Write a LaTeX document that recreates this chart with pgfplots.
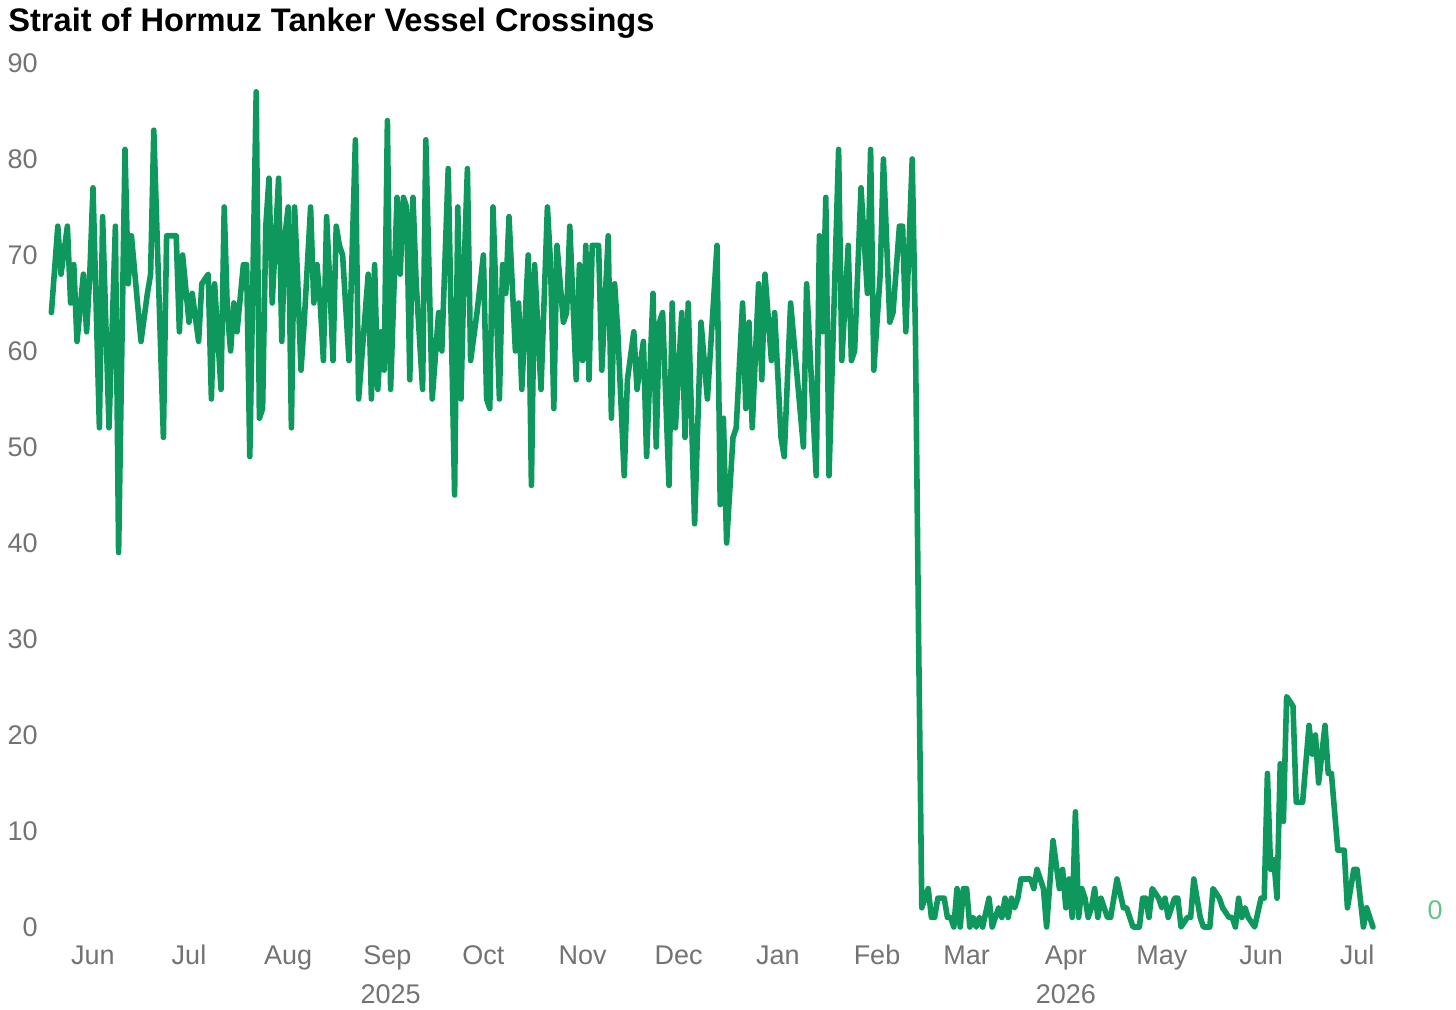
\documentclass[border=0pt]{standalone}
\usepackage{pgfplots}
\usepackage{pgfplotstable}
\pgfplotsset{compat=1.18}
\usepackage{fontspec}
\setmainfont{Liberation Sans}
\definecolor{linegreen}{RGB}{14,152,94}
\definecolor{lblgreen}{RGB}{100,195,140}
\definecolor{tickgray}{RGB}{115,115,115}
\pgfplotstableread{
d v
-13 64
-11 73
-10 68
-8 73
-7 65
-6 69
-5 61
-3 68
-2 62
-1 68
0 77
2 52
3 74
5 52
7 73
8 39
10 81
11 67
12 72
15 61
17 66
18 68
19 83
22 51
23 72
26 72
27 62
28 70
30 63
31 66
33 61
34 67
36 68
37 55
38 67
40 56
41 75
42 64
43 60
44 65
45 62
47 69
48 69
49 49
51 87
52 53
53 54
54 73
55 78
56 65
58 78
59 61
60 72
61 75
62 52
63 75
64 67
65 58
66 63
68 75
69 65
70 69
71 65
72 59
73 74
74 67
75 59
76 73
77 71
78 70
80 59
82 82
83 55
86 68
87 55
88 69
89 56
90 62
91 58
92 84
93 56
95 76
96 68
97 76
98 75
99 57
100 76
101 67
103 56
104 82
106 55
108 64
109 60
111 79
113 45
114 75
115 55
116 69
117 79
118 59
120 64
122 70
123 55
124 54
125 75
127 55
128 69
129 66
130 74
132 60
133 65
134 56
136 70
137 46
138 69
140 56
142 75
143 69
144 54
145 71
147 63
148 64
149 73
151 57
152 69
153 59
154 71
155 57
156 71
158 71
159 58
161 72
162 53
163 67
164 62
166 47
167 57
169 62
170 56
172 61
173 49
175 66
176 50
177 63
178 64
180 46
181 65
182 52
184 64
185 51
186 65
188 42
190 63
192 55
195 71
196 44
197 53
198 40
200 51
201 52
203 65
204 54
205 63
206 52
208 67
209 57
210 68
212 59
213 64
215 51
216 49
218 65
222 50
223 67
226 47
227 72
228 62
229 76
230 47
233 81
234 59
236 71
237 59
238 60
240 77
242 66
243 81
244 58
246 68
247 80
249 63
250 64
252 73
253 73
254 62
256 80
257 62
258 30
259 2
261 4
262 1
263 1
264 3
266 3
267 1
268 1
269 0
270 4
271 0
272 4
273 4
274 0
275 1
276 0
277 1
278 0
280 3
281 0
283 2
284 1
285 3
286 1
287 3
288 2
289 3
290 5
293 5
294 4
295 6
297 4
298 0
300 9
302 4
303 6
304 2
305 5
306 1
307 12
308 1
309 4
310 3
311 1
312 2
313 4
314 1
315 3
316 2
317 1
318 1
320 5
322 2
323 2
325 0
327 0
328 3
329 3
330 1
331 4
333 3
334 2
335 3
336 1
338 3
339 3
340 0
342 1
343 1
344 5
346 1
347 0
349 0
350 4
352 3
353 2
355 1
356 1
357 0
358 3
359 1
360 2
361 1
363 0
365 3
366 3
367 16
368 6
369 7
370 3
371 17
372 11
373 24
375 23
376 13
377 13
378 13
380 21
381 18
382 20
383 15
385 21
386 16
387 16
389 8
391 8
392 2
394 6
395 6
397 0
398 2
400 0
}\crossings
\begin{document}
\begin{tikzpicture}
\begin{axis}[
  scale only axis,
  width=660.8pt, height=432pt,
  xmin=-13, xmax=400, ymin=0, ymax=90,
  axis line style={draw=none},
  major tick length=0pt,
  clip=false,
  xtick={0,30,61,92,122,153,183,214,245,273,304,334,365,395},
  xticklabels={Jun,Jul,Aug,Sep,Oct,Nov,Dec,Jan,Feb,Mar,Apr,May,Jun,Jul},
  ytick={0,10,...,90},
  ticklabel style={font=\fontsize{13.5}{16}\selectfont, text=tickgray, inner sep=0pt},
  yticklabel style={anchor=east, xshift=-6.7pt},
  xticklabel style={anchor=base, yshift=-19pt},
  /pgf/number format/assume math mode=true,
]
\addplot[linegreen, line width=2.8pt, line join=round, line cap=round] table[x=d,y=v]{\crossings};
\node[anchor=base west, font=\bfseries\fontsize{16.3}{19}\selectfont, inner sep=0pt]
  at ([xshift=-21.7pt, yshift=15.5pt]rel axis cs:0,1) {Strait of Hormuz Tanker Vessel Crossings};
\node[anchor=base, font=\fontsize{13.5}{16}\selectfont, text=tickgray, inner sep=0pt]
  at ([yshift=-38.5pt]axis cs:93,0) {2025};
\node[anchor=base, font=\fontsize{13.5}{16}\selectfont, text=tickgray, inner sep=0pt]
  at ([yshift=-38.5pt]axis cs:304,0) {2026};
\node[anchor=center, font=\fontsize{13.5}{16}\selectfont, text=lblgreen, inner sep=0pt]
  at ([xshift=31pt]axis cs:400,1.8) {0};
\path ([xshift=-25.7pt,yshift=-41.5pt]rel axis cs:0,0) rectangle ([xshift=41.5pt,yshift=31.5pt]rel axis cs:1,1);
\end{axis}
\end{tikzpicture}
\end{document}
